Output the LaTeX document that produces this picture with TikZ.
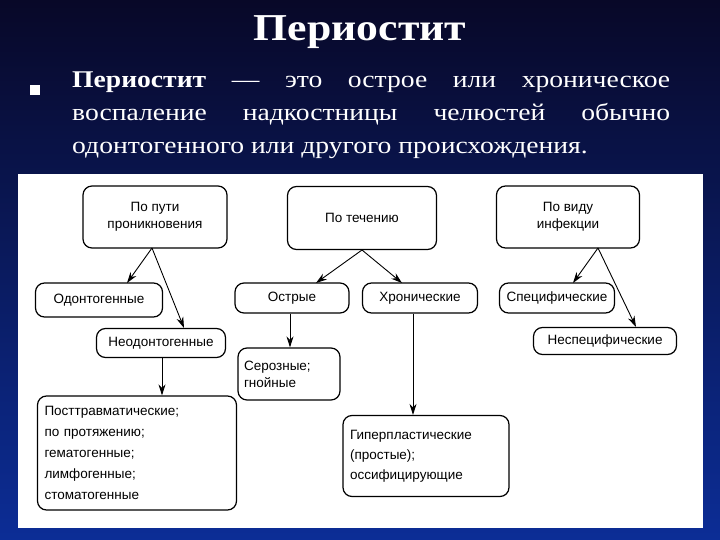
\documentclass[tikz,border=0pt]{standalone}
\usepackage{fontspec}
\setmainfont{Liberation Serif}
\newfontfamily\wideserif[FakeStretch=1.15]{Liberation Serif}
\newfontfamily\dsans{Liberation Sans}
\usetikzlibrary{arrows.meta}
\begin{document}
\begin{tikzpicture}[x=1pt,y=-1pt,
  bx/.style={draw,line width=1.2pt,rounded corners=9pt,font=\dsans\fontsize{13.5}{17}\selectfont,align=center,inner sep=0pt},
  ar/.style={line width=0.9pt,-{Stealth[length=11pt,width=7pt]}},
  ln/.style={line width=0.9pt}]
\useasboundingbox (0,0) rectangle (720,540);
\shade[top color={rgb,255:red,8;green,8;blue,40},bottom color={rgb,255:red,12;green,45;blue,150}] (0,0) rectangle (720,540);
\fill[white] (18,174) rectangle (703,528);
\node[text=white,font=\wideserif\bfseries\fontsize{38}{40}\selectfont] (title) at (360,32) {Периостит};
\fill[white] (30,85) rectangle (40,95);
\node[text=white,anchor=north west,text width=598pt,align=justify,font=\wideserif\fontsize{24}{33}\selectfont,inner sep=0pt] (txt) at (72,72) {\textbf{Периостит} — это острое или хроническое\linebreak воспаление надкостницы челюстей обычно\linebreak одонтогенного или другого происхождения.};
\node[bx,minimum width=144pt,minimum height=62pt] (p1) at (155,217) {По пути\\проникновения};
\node[bx,minimum width=149pt,minimum height=63pt] (p2) at (362,218) {По течению};
\node[bx,minimum width=143pt,minimum height=62pt] (p3) at (568,217) {По виду\\инфекции};
\node[bx,minimum width=127pt,minimum height=34pt] (a1) at (99,300) {Одонтогенные};
\node[bx,minimum width=129pt,minimum height=29pt] (a2) at (161,343) {Неодонтогенные};
\node[bx,minimum width=114pt,minimum height=30pt] (b1) at (292,298) {Острые};
\node[bx,minimum width=115pt,minimum height=30pt] (b2) at (420,298) {Хронические};
\node[bx,minimum width=115pt,minimum height=30pt] (c1) at (557,298) {Специфические};
\node[bx,minimum width=143pt,minimum height=27pt] (c2) at (605,341) {Неспецифические};
\node[bx,minimum width=102pt,minimum height=52pt,align=left,text width=90pt] (b3) at (289,374) {Серозные;\\гнойные};
\node[bx,minimum width=199pt,minimum height=114pt,align=left,text width=185pt,font=\dsans\fontsize{13.5}{21}\selectfont] (a3) at (137,453) {Посттравматические;\\по протяжению;\\гематогенные;\\лимфогенные;\\стоматогенные};
\node[bx,minimum width=166pt,minimum height=81pt,align=left,text width=152pt,font=\dsans\fontsize{13.5}{20}\selectfont] (b4) at (426,456) {Гиперпластические\\(простые);\\оссифицирующие};
\coordinate (p1s) at (152,248);
\coordinate (p2s) at (362,250);
\coordinate (p3s) at (598,248);
\draw[ar] (p1s) -- (127,283);
\draw[ar] (p1s) -- (184,328);
\draw[ar] (p2s) -- (316,283);
\draw[ar] (p2s) -- (402,283);
\draw[ar] (p3s) -- (573,283);
\draw[ar] (p3s) -- (636,327);
\draw[ar] (a2.south -| 162,0) -- (a3.north -| 162,0);
\draw[ar] (b1.south -| 290,0) -- (b3.north -| 290,0);
\draw[ar] (b2.south -| 413,0) -- (b4.north -| 413,0);
\end{tikzpicture}
\end{document}
